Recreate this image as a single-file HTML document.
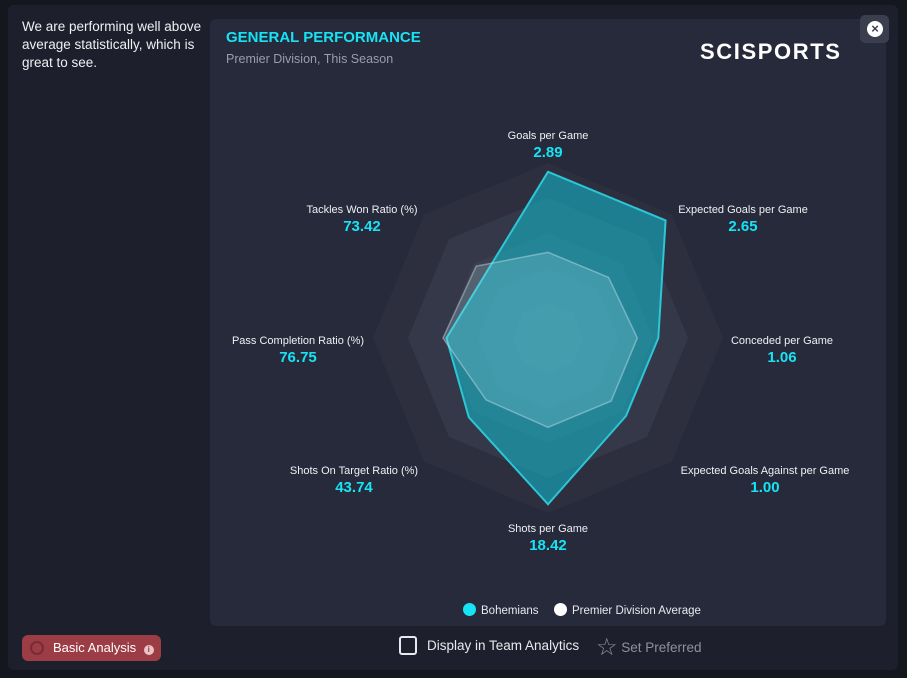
<!DOCTYPE html>
<html><head><meta charset="utf-8"><style>
*{margin:0;padding:0;box-sizing:border-box}
body{width:907px;height:678px;background:#15171f;font-family:"Liberation Sans",sans-serif;position:relative;overflow:hidden;color:#e8e9ee}
.modal{position:absolute;left:8px;top:5px;width:890px;height:665px;background:#1d202c;border-radius:6px}
.card{position:absolute;left:210px;top:19px;width:676px;height:607px;background:#262a3a;border-radius:6px}
.abs{position:absolute}
.lbl{position:absolute;text-align:center;font-size:11px;color:#f0f0f4;white-space:nowrap;transform:translateX(-50%)}
.lbl b{display:block;color:#17e3f5;font-size:15px;margin-top:2px}
</style></head><body>
<div class="modal"></div>
<div class="abs" style="left:22px;top:18px;width:185px;font-size:13.5px;line-height:18px;color:#eef0f4">We are performing well above average statistically, which is great to see.</div>
<div class="card"></div>
<div class="abs" style="left:226px;top:29px;font-size:15px;font-weight:bold;color:#17e3f5">GENERAL PERFORMANCE</div>
<div class="abs" style="left:226px;top:52px;font-size:12.5px;color:#9a9dab">Premier Division, This Season</div>
<div class="abs" style="left:700px;top:39px;font-size:22px;font-weight:bold;color:#fff;letter-spacing:1.6px">SCISPORTS</div>
<div class="abs" style="left:860px;top:15px;width:29px;height:28px;background:#3a3e4d;border-radius:5px"><div style="position:absolute;left:7px;top:6px;width:16px;height:16px;border-radius:50%;background:#fff;color:#3a3e4d;font-size:13px;font-weight:bold;line-height:16px;text-align:center">×</div></div>

<svg class="abs" style="left:0;top:0" width="907" height="678" id="radar"></svg>

<div class="lbl" style="left:548px;top:130px">Goals per Game<b>2.89</b></div>
<div class="lbl" style="left:743px;top:204px">Expected Goals per Game<b>2.65</b></div>
<div class="lbl" style="left:782px;top:335px">Conceded per Game<b>1.06</b></div>
<div class="lbl" style="left:765px;top:465px">Expected Goals Against per Game<b>1.00</b></div>
<div class="lbl" style="left:548px;top:523px">Shots per Game<b>18.42</b></div>
<div class="lbl" style="left:354px;top:465px">Shots On Target Ratio (%)<b>43.74</b></div>
<div class="lbl" style="left:298px;top:335px">Pass Completion Ratio (%)<b>76.75</b></div>
<div class="lbl" style="left:362px;top:204px">Tackles Won Ratio (%)<b>73.42</b></div>

<div class="abs" style="left:463px;top:603px;font-size:11.5px;color:#e8e9ee"><span style="display:inline-block;width:13px;height:13px;border-radius:50%;background:#17e3f5;vertical-align:-2px;margin-right:5px"></span>Bohemians</div>
<div class="abs" style="left:554px;top:603px;font-size:11.5px;color:#e8e9ee"><span style="display:inline-block;width:13px;height:13px;border-radius:50%;background:#fff;vertical-align:-2px;margin-right:5px"></span>Premier Division Average</div>

<div class="abs" style="left:22px;top:635px;width:139px;height:26px;background:#9c3d45;border-radius:6px;font-size:13px;color:#fff;line-height:26px;padding-left:31px">Basic Analysis <span style="display:inline-block;width:10px;height:10px;border-radius:50%;background:#e9c4c6;color:#9c3d45;font-size:8px;line-height:10px;text-align:center;font-weight:bold;vertical-align:0px;margin-left:4px">i</span><span style="position:absolute;left:8px;top:6px;width:14px;height:14px;border-radius:50%;border:2px solid #7a2a31"></span></div>
<div class="abs" style="left:399px;top:636px;width:18px;height:19px;border:2px solid #e8e9ee;border-radius:3px"></div>
<div class="abs" style="left:427px;top:638px;font-size:13.5px;color:#e8e9ee">Display in Team Analytics</div>
<div class="abs" style="left:596px;top:633px;font-size:13.5px;color:#8e909b"><span style="font-size:24px;vertical-align:-3px">☆</span> Set Preferred</div>

<script>
const categories=["Goals per Game","Expected Goals per Game","Conceded per Game","Expected Goals Against per Game","Shots per Game","Shots On Target Ratio (%)","Pass Completion Ratio (%)","Tackles Won Ratio (%)"];
const bohemians=[0.95,0.95,0.63,0.63,0.95,0.64,0.58,0.51];
const average=[0.49,0.49,0.51,0.51,0.51,0.50,0.60,0.58];
const ringLevels=[1,0.8,0.6,0.4,0.2];
const svg=document.getElementById('radar');
const NS='http://www.w3.org/2000/svg';
const cx=548,cy=338,R=175;
function pt(i,v){const a=-Math.PI/2+i*2*Math.PI/categories.length;return [cx+R*v*Math.cos(a),cy+R*v*Math.sin(a)];}
function poly(vals){return vals.map((v,i)=>pt(i,v).map(n=>n.toFixed(1)).join(',')).join(' ');}
const ringFill=['#2d2f3f','#353848','#3c3f4f','#434656','#494c5b'];
ringLevels.forEach((l,k)=>{
  const p=document.createElementNS(NS,'polygon');
  p.setAttribute('points',poly(categories.map(()=>l)));
  p.setAttribute('fill',ringFill[k]);
  
  
  svg.appendChild(p);
});
const bp=document.createElementNS(NS,'polygon');
bp.setAttribute('points',poly(bohemians));
bp.setAttribute('fill','rgba(20,180,200,0.6)');
bp.setAttribute('stroke','#2cc6d6');
bp.setAttribute('stroke-width','2');


svg.appendChild(bp);
const ap=document.createElementNS(NS,'polygon');
ap.setAttribute('points',poly(average));
ap.setAttribute('fill','rgba(180,235,245,0.2)');
ap.setAttribute('stroke','rgba(200,225,235,0.45)');
ap.setAttribute('stroke-width','1.5');


svg.appendChild(ap);
</script>
</body></html>
